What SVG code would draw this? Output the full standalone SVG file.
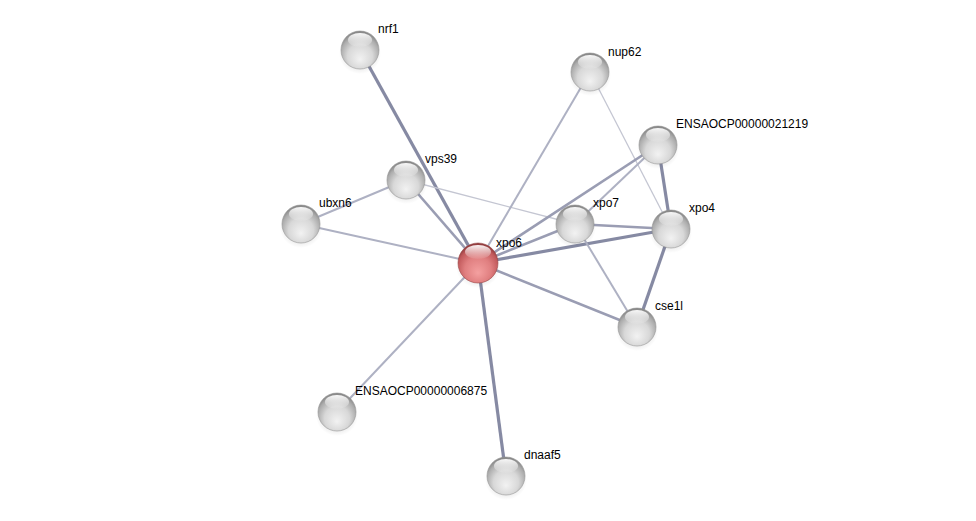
<svg xmlns="http://www.w3.org/2000/svg" width="976" height="521" viewBox="0 0 976 521">
<defs>
<radialGradient id="gGrey" cx="0.5" cy="0.62" r="0.6" fx="0.5" fy="0.75">
<stop offset="0" stop-color="#f2f2f2"/>
<stop offset="0.55" stop-color="#d8d8d8"/>
<stop offset="0.85" stop-color="#acacac"/>
<stop offset="1" stop-color="#858585"/>
</radialGradient>
<radialGradient id="gRed" cx="0.5" cy="0.62" r="0.6" fx="0.5" fy="0.75">
<stop offset="0" stop-color="#f4a0a0"/>
<stop offset="0.55" stop-color="#e07f80"/>
<stop offset="0.85" stop-color="#c25a5c"/>
<stop offset="1" stop-color="#8e3a3c"/>
</radialGradient>
<linearGradient id="gHi" x1="0" y1="0" x2="0" y2="1">
<stop offset="0" stop-color="#ffffff" stop-opacity="0.95"/>
<stop offset="1" stop-color="#ffffff" stop-opacity="0.05"/>
</linearGradient>
<radialGradient id="gShadow" cx="0.5" cy="0.5" r="0.5">
<stop offset="0" stop-color="#000" stop-opacity="0.25"/>
<stop offset="1" stop-color="#000" stop-opacity="0"/>
</radialGradient>
</defs>
<style>
.e{fill:none;stroke-linecap:butt}
.e1{stroke:#c4c6d2;stroke-width:1.3}
.e2{stroke:#aeb1c3;stroke-width:2}
.e3{stroke:#9a9db3;stroke-width:2.6}
.e4{stroke:#868aa3;stroke-width:3.2}
.sh{fill:url(#gShadow)}
.ball{fill:url(#gGrey);stroke:#959595;stroke-width:0.6}
.red{fill:url(#gRed);stroke:#9a4a4a;stroke-width:0.6}
.hi{fill:url(#gHi)}
text{font-family:"Liberation Sans",Arial,sans-serif;font-size:12px;fill:#000}
</style>
<rect width="976" height="521" fill="#ffffff"/>
<g id="edges">
<line class="e e4" x1="360" y1="50" x2="478" y2="263"/>
<line class="e e3" x1="406" y1="180" x2="478" y2="263"/>
<line class="e e2" x1="301" y1="224" x2="406" y2="180"/>
<line class="e e2" x1="301" y1="224" x2="478" y2="263"/>
<line class="e e1" x1="406" y1="180" x2="575" y2="224"/>
<line class="e e2" x1="590" y1="72" x2="478" y2="263"/>
<line class="e e1" x1="590" y1="72" x2="671" y2="229"/>
<line class="e e3" x1="658" y1="145" x2="478" y2="263"/>
<line class="e e2" x1="658" y1="145" x2="575" y2="224"/>
<line class="e e4" x1="658" y1="145" x2="671" y2="229"/>
<line class="e e3" x1="575" y1="224" x2="478" y2="263"/>
<line class="e e3" x1="575" y1="224" x2="671" y2="229"/>
<line class="e e4" x1="671" y1="229" x2="478" y2="263"/>
<line class="e e4" x1="671" y1="229" x2="637" y2="327"/>
<line class="e e2" x1="575" y1="224" x2="637" y2="327"/>
<line class="e e3" x1="637" y1="327" x2="478" y2="263"/>
<line class="e e2" x1="337" y1="412" x2="478" y2="263"/>
<line class="e e4" x1="506" y1="476" x2="478" y2="263"/>
</g>
<g id="nrf1">
<ellipse class="sh" cx="360" cy="54" rx="21" ry="20"/>
<circle class="ball" cx="360" cy="50" r="19"/>
<ellipse class="hi" cx="360" cy="40" rx="12" ry="7"/>
<text x="378" y="33">nrf1</text>
</g>
<g id="nup62">
<ellipse class="sh" cx="590" cy="76" rx="21" ry="20"/>
<circle class="ball" cx="590" cy="72" r="19"/>
<ellipse class="hi" cx="590" cy="62" rx="12" ry="7"/>
<text x="608" y="56">nup62</text>
</g>
<g id="ENSAOCP00000021219">
<ellipse class="sh" cx="658" cy="149" rx="21" ry="20"/>
<circle class="ball" cx="658" cy="145" r="19"/>
<ellipse class="hi" cx="658" cy="135" rx="12" ry="7"/>
<text x="676" y="128">ENSAOCP00000021219</text>
</g>
<g id="vps39">
<ellipse class="sh" cx="406" cy="184" rx="21" ry="20"/>
<circle class="ball" cx="406" cy="180" r="19"/>
<ellipse class="hi" cx="406" cy="170" rx="12" ry="7"/>
<text x="425" y="163">vps39</text>
</g>
<g id="ubxn6">
<ellipse class="sh" cx="301" cy="228" rx="21" ry="20"/>
<circle class="ball" cx="301" cy="224" r="19"/>
<ellipse class="hi" cx="301" cy="214" rx="12" ry="7"/>
<text x="319" y="207">ubxn6</text>
</g>
<g id="xpo7">
<ellipse class="sh" cx="575" cy="228" rx="21" ry="20"/>
<circle class="ball" cx="575" cy="224" r="19"/>
<ellipse class="hi" cx="575" cy="214" rx="12" ry="7"/>
<text x="593" y="207">xpo7</text>
</g>
<g id="xpo4">
<ellipse class="sh" cx="671" cy="233" rx="21" ry="20"/>
<circle class="ball" cx="671" cy="229" r="19"/>
<ellipse class="hi" cx="671" cy="219" rx="12" ry="7"/>
<text x="689" y="212">xpo4</text>
</g>
<g id="xpo6">
<ellipse class="sh" cx="478" cy="267" rx="22" ry="21"/>
<circle class="red" cx="478" cy="263" r="20"/>
<ellipse class="hi" cx="478" cy="252" rx="13" ry="7"/>
<text x="496" y="247">xpo6</text>
</g>
<g id="cse1l">
<ellipse class="sh" cx="637" cy="331" rx="21" ry="20"/>
<circle class="ball" cx="637" cy="327" r="19"/>
<ellipse class="hi" cx="637" cy="317" rx="12" ry="7"/>
<text x="655" y="310">cse1l</text>
</g>
<g id="ENSAOCP00000006875">
<ellipse class="sh" cx="337" cy="416" rx="21" ry="20"/>
<circle class="ball" cx="337" cy="412" r="19"/>
<ellipse class="hi" cx="337" cy="402" rx="12" ry="7"/>
<text x="355" y="395">ENSAOCP00000006875</text>
</g>
<g id="dnaaf5">
<ellipse class="sh" cx="506" cy="480" rx="21" ry="20"/>
<circle class="ball" cx="506" cy="476" r="19"/>
<ellipse class="hi" cx="506" cy="466" rx="12" ry="7"/>
<text x="524" y="459">dnaaf5</text>
</g>
</svg>
